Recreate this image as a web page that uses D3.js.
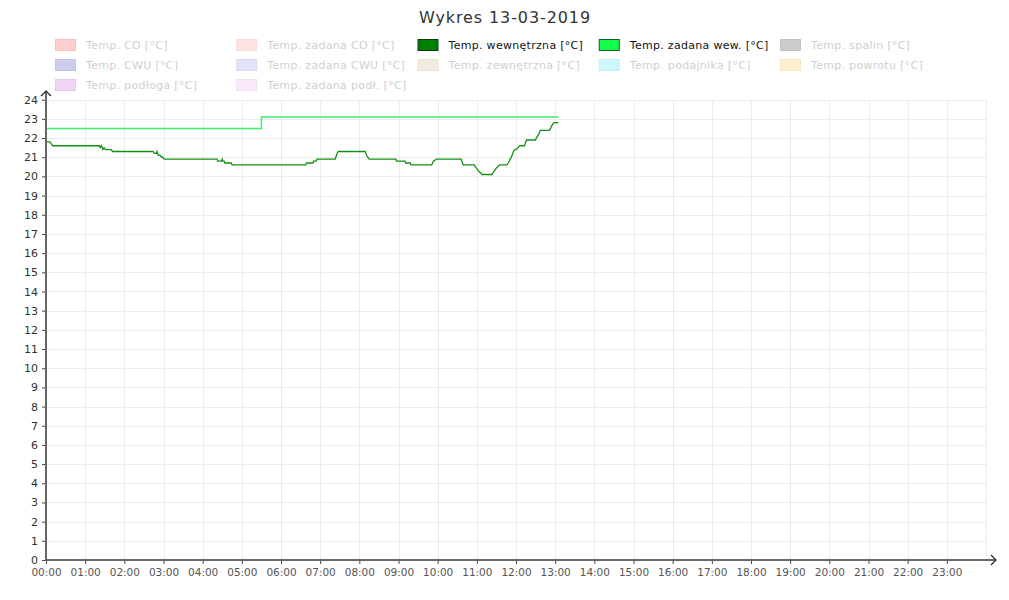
<!DOCTYPE html>
<html>
<head>
<meta charset="utf-8">
<script src="https://cdn.jsdelivr.net/npm/d3@7"></script>
<style>
  body { margin: 0; background: #fff; }
  svg { display: block; font-family: "DejaVu Sans", sans-serif; }
</style>
</head>
<body>
<svg id="chart" width="1009" height="600"></svg>
<script>
// ---------- DATA ----------
const chartTitle = "Wykres 13-03-2019";

const legendLabels = [
  "Temp. CO [°C]", "Temp. zadana CO [°C]", "Temp. wewnętrzna [°C]", "Temp. zadana wew. [°C]", "Temp. spalin [°C]",
  "Temp. CWU [°C]", "Temp. zadana CWU [°C]", "Temp. zewnętrzna [°C]", "Temp. podajnika [°C]", "Temp. powrotu [°C]",
  "Temp. podłoga [°C]", "Temp. zadana podł. [°C]"
];
const legendFill = [
  "#ffcfcf", "#ffe3e3", "#008000", "#11ff4a", "#cccccc",
  "#cdcdf0", "#e2e2fb", "#f1ebdd", "#cdf7fd", "#fff1cf",
  "#f1d3f5", "#f9e9fb"
];
const legendStroke = [
  "#f3c3c3", "#f5d9d9", "#0b3d0b", "#1a5a2a", "#c3c3c3",
  "#c4c4e6", "#d9d9f1", "#e7e1d3", "#c3edf3", "#f5e7c5",
  "#e7c9eb", "#efdff1"
];
const legendActive = [false, false, true, true, false, false, false, false, false, false, false, false];

const yTickValues = [0,1,2,3,4,5,6,7,8,9,10,11,12,13,14,15,16,17,18,19,20,21,22,23,24];
const xTickLabels = ["00:00","01:00","02:00","03:00","04:00","05:00","06:00","07:00","08:00","09:00","10:00","11:00",
                     "12:00","13:00","14:00","15:00","16:00","17:00","18:00","19:00","20:00","21:00","22:00","23:00"];

// Temp. zadana wew. (setpoint), step-after
const setTimes  = ["00:00", "05:30", "13:05"];
const setValues = [22.5, 23.1, 23.1];

// Temp. wewnętrzna (inside temperature)
const inTimes = [
  "00:00","00:01","00:06","00:08","00:10","01:22","01:23","01:25","01:27","01:29","01:31","01:40","01:42",
  "02:44","02:46","02:49","02:50","02:52","02:55","02:57","02:59","03:01",
  "04:22","04:23","04:29","04:30","04:31","04:33","04:34","04:44","04:45",
  "06:38","06:39","06:49","06:50","06:54","06:55","07:23","07:24","07:25","07:26","07:28",
  "08:09","08:10","08:11","08:13","08:15","08:56","08:57","09:10","09:11","09:18","09:19",
  "09:51","09:52","09:54","09:58","10:36","10:37","10:38","10:39","10:56","10:58","11:00","11:02","11:05","11:08",
  "11:23","11:25","11:27","11:29","11:32","11:35","11:46","11:48","11:50","11:51","11:53","11:54","11:55","11:56",
  "11:58","12:00","12:03","12:06","12:13","12:14","12:15","12:16","12:30","12:31","12:33","12:35","12:36","12:37",
  "12:51","12:53","12:54","12:56","12:58","13:05"
];
const inValues = [
  21.7,21.8,21.8,21.7,21.6,21.6,21.5,21.6,21.4,21.5,21.4,21.4,21.3,
  21.3,21.2,21.2,21.3,21.1,21.1,21.0,21.0,20.9,
  20.9,20.8,20.8,20.9,20.8,20.8,20.7,20.7,20.6,
  20.6,20.7,20.7,20.8,20.8,20.9,20.9,21.0,21.1,21.2,21.3,
  21.3,21.2,21.1,21.0,20.9,20.9,20.8,20.8,20.7,20.7,20.6,
  20.6,20.7,20.8,20.9,20.9,20.8,20.7,20.6,20.6,20.5,20.4,20.3,20.2,20.1,
  20.1,20.2,20.3,20.4,20.5,20.6,20.6,20.7,20.8,20.9,21.0,21.1,21.2,21.3,
  21.4,21.4,21.5,21.6,21.6,21.7,21.8,21.9,21.9,22.0,22.1,22.2,22.3,22.4,
  22.4,22.5,22.6,22.7,22.8,22.8
];

// ---------- CHART ----------
const svg = d3.select("#chart");
const toMin = s => { const [h, m] = s.split(":").map(Number); return h * 60 + m; };

const x = d3.scaleLinear().domain([0, 1440]).range([46, 986]);
const y = d3.scaleLinear().domain([0, 24]).range([560, 99.7]);

// title
svg.append("text")
  .attr("x", 505).attr("y", 23)
  .attr("text-anchor", "middle")
  .style("font-size", "16px").style("letter-spacing", "0.9px")
  .attr("fill", "#333")
  .text(chartTitle);

// legend
const legend = svg.append("g");
legendLabels.forEach((lab, i) => {
  const col = i % 5, row = Math.floor(i / 5);
  const gx = 55 + col * 181.25, gy = 45 + row * 20;
  legend.append("rect")
    .attr("x", gx + 0.5).attr("y", gy - 5.5)
    .attr("width", 20).attr("height", 11)
    .attr("fill", legendFill[i]).attr("stroke", legendStroke[i]).attr("stroke-width", 1);
  legend.append("text")
    .attr("x", gx + 31).attr("y", gy + 4)
    .style("font-size", "11px").style("letter-spacing", "0.3px")
    .attr("fill", legendActive[i] ? "#111" : "#cfcfcf")
    .text(lab);
});

// grid
const grid = svg.append("g").attr("stroke", "#ececec").attr("stroke-width", 1);
d3.range(1, 25).forEach(h => {
  grid.append("line").attr("x1", Math.round(x(h * 60)) + 0.5).attr("x2", Math.round(x(h * 60)) + 0.5)
    .attr("y1", y(24)).attr("y2", y(0));
});
yTickValues.filter(v => v > 0).forEach(v => {
  grid.append("line").attr("x1", x(0)).attr("x2", x(1440))
    .attr("y1", Math.round(y(v)) + 0.5).attr("y2", Math.round(y(v)) + 0.5);
});

// lines
const lineSet = d3.line()
  .x((d, i) => x(toMin(setTimes[i])))
  .y(d => y(d))
  .curve(d3.curveStepAfter);
svg.append("path").datum(setValues)
  .attr("d", lineSet)
  .attr("fill", "none").attr("stroke", "#3cf06a").attr("stroke-width", 1.5);

const lineIn = d3.line()
  .x((d, i) => x(toMin(inTimes[i])))
  .y(d => y(d));
svg.append("path").datum(inValues)
  .attr("d", lineIn)
  .attr("fill", "none").attr("stroke", "#148f14").attr("stroke-width", 1.3);

// axes
const yAxis = d3.axisLeft(y).tickValues(yTickValues).tickSize(4).tickPadding(4).tickFormat(d3.format("d"));
const gy = svg.append("g").attr("transform", `translate(${x(0)},0)`).call(yAxis);
gy.select(".domain").remove();
gy.selectAll(".tick line").attr("stroke", "#444");
gy.selectAll(".tick text").attr("fill", "#333").style("font-size", "11px").style("font-family", "DejaVu Sans");

const xAxis = d3.axisBottom(x).tickValues(d3.range(0, 24).map(h => h * 60))
  .tickSize(4).tickPadding(5).tickFormat((d, i) => xTickLabels[i]);
const gx = svg.append("g").attr("transform", `translate(0,${y(0)})`).call(xAxis);
gx.select(".domain").remove();
gx.selectAll(".tick line").attr("stroke", "#444");
gx.selectAll(".tick text").attr("fill", "#555").style("font-size", "10.5px").style("font-family", "DejaVu Sans");

// axis lines with arrows
const ax = svg.append("g").attr("stroke", "#666").attr("stroke-width", 2).attr("fill", "none");
ax.append("line").attr("x1", x(0)).attr("x2", x(0)).attr("y1", y(0) + 1).attr("y2", 91);
ax.append("line").attr("x1", x(0) - 1).attr("x2", 996).attr("y1", y(0)).attr("y2", y(0));
const arrows = svg.append("g").attr("stroke", "#222").attr("stroke-width", 1.2).attr("fill", "none");
arrows.append("path").attr("d", `M${x(0) - 5},${96} L${x(0)},${91} L${x(0) + 5},${96}`);
arrows.append("path").attr("d", `M${991},${y(0) - 5} L${996},${y(0)} L${991},${y(0) + 5}`);
</script>
</body>
</html>
